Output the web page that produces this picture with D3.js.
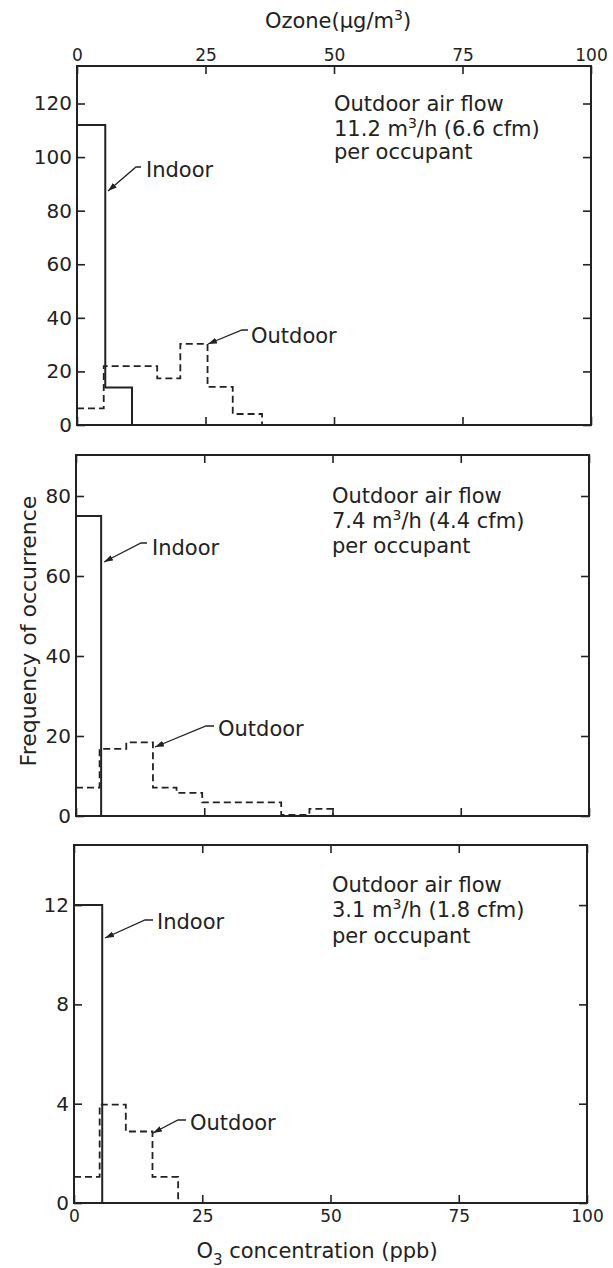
<!DOCTYPE html>
<html><head><meta charset="utf-8">
<script src="https://cdn.jsdelivr.net/npm/d3@7"></script>
<style>
body{margin:0;background:#fff}
text{font-family:"DejaVu Sans",sans-serif;fill:#222}
</style>
</head><body>
<svg id="c" width="613" height="1268"></svg>
<script>
// ---------- data ----------
const xTicks = [0, 25, 50, 75, 100];

const yTicksA = [0, 20, 40, 60, 80, 100, 120];
const yTicksB = [0, 20, 40, 60, 80];
const yTicksC = [0, 4, 8, 12];

const yMaxA = 134, yMaxB = 90.25, yMaxC = 14.42;

// panel A: 11.2 m3/h
const indoorEdgesA  = [0, 5.5, 10.7];
const indoorFreqA   = [112, 14];
const outdoorEdgesA = [0, 5.2, 15.6, 20.1, 25.4, 30.3, 36];
const outdoorFreqA  = [6.2, 22, 17.4, 30.3, 14.2, 4.1];

// panel B: 7.4 m3/h
const indoorEdgesB  = [0, 4.9];
const indoorFreqB   = [75];
const outdoorEdgesB = [0, 4.6, 9.8, 15, 19.6, 24.6, 40, 45.5, 50.1];
const outdoorFreqB  = [7.1, 16.8, 18.4, 7.1, 5.8, 3.4, 0.3, 1.8];

// panel C: 3.1 m3/h
const indoorEdgesC  = [0, 5.5];
const indoorFreqC   = [12];
const outdoorEdgesC = [0, 5.0, 10.1, 15.3, 20.3];
const outdoorFreqC  = [1.05, 3.96, 2.88, 1.05];

const flowRatesM3 = ["11.2", "7.4", "3.1"];
const flowRatesCfm = ["6.6", "4.4", "1.8"];

// ---------- drawing ----------
const svg = d3.select("#c");
const ink = "#222";

const defs = svg.append("defs");
defs.append("marker").attr("id","ah").attr("markerUnits","userSpaceOnUse")
  .attr("markerWidth",10).attr("markerHeight",6).attr("refX",9).attr("refY",3)
  .attr("orient","auto")
  .append("path").attr("d","M0,0 L9,3 L0,6 Z").attr("fill",ink);

const panels = [
  {l:77, r:591, t:66,  b:425,  yMax:yMaxA, yTicks:yTicksA,
   inE:indoorEdgesA, inF:indoorFreqA, outE:outdoorEdgesA, outF:outdoorFreqA,
   top:true, bottom:false,
   flow:{x:334, y:[111,136,159]},
   indoor:{tx:146, ty:177, a:[[141,167],[136,167],[108,191]]},
   outdoor:{tx:251, ty:343, a:[[248,330],[242,330],[208,344]]}},
  {l:76, r:589, t:455, b:816,  yMax:yMaxB, yTicks:yTicksB,
   inE:indoorEdgesB, inF:indoorFreqB, outE:outdoorEdgesB, outF:outdoorFreqB,
   top:false, bottom:false,
   flow:{x:332, y:[503,528,553]},
   indoor:{tx:152, ty:555, a:[[147,543],[141,543],[104,562]]},
   outdoor:{tx:218, ty:736, a:[[214,726],[206,726],[155,747]]}},
  {l:74, r:587, t:845, b:1203, yMax:yMaxC, yTicks:yTicksC,
   inE:indoorEdgesC, inF:indoorFreqC, outE:outdoorEdgesC, outF:outdoorFreqC,
   top:false, bottom:true,
   flow:{x:332, y:[892,917,943]},
   indoor:{tx:157, ty:929, a:[[153,920],[145,920],[105,938]]},
   outdoor:{tx:190, ty:1130, a:[[186,1120],[178,1120],[153,1133]]}}
];

const stepLine = d3.line().curve(d3.curveStepAfter);

panels.forEach((p, i) => {
  const x = d3.scaleLinear().domain([0,100]).range([p.l, p.r]);
  const y = d3.scaleLinear().domain([0,p.yMax]).range([p.b, p.t]);
  const g = svg.append("g");

  const styleAxis = (sel, labels, size) => {
    sel.select(".domain").remove();
    sel.selectAll(".tick line").attr("stroke", ink).attr("stroke-width",1.6);
    sel.selectAll(".tick text").attr("fill", ink).style("font-size", size + "px")
       .style("font-family","'DejaVu Sans',sans-serif");
    if (!labels) sel.selectAll(".tick text").remove();
  };

  g.append("g").attr("transform",`translate(${p.l},0)`)
    .call(d3.axisLeft(y).tickValues(p.yTicks).tickSize(-8).tickPadding(5))
    .call(s => styleAxis(s, true, 20));
  g.append("g").attr("transform",`translate(${p.r},0)`)
    .call(d3.axisRight(y).tickValues(p.yTicks).tickSize(-8))
    .call(s => styleAxis(s, false, 20));
  g.append("g").attr("transform",`translate(0,${p.t})`)
    .call(d3.axisTop(x).tickValues(xTicks).tickSize(-8).tickPadding(5))
    .call(s => styleAxis(s, p.top, 17));
  g.append("g").attr("transform",`translate(0,${p.b})`)
    .call(d3.axisBottom(x).tickValues(xTicks).tickSize(-8).tickPadding(7))
    .call(s => styleAxis(s, p.bottom, 17));

  // frame
  g.append("rect").attr("x",p.l).attr("y",p.t).attr("width",p.r-p.l).attr("height",p.b-p.t)
    .attr("fill","none").attr("stroke",ink).attr("stroke-width",2);

  // histograms
  const pts = (E, F) => {
    const a = F.map((v,k) => [x(E[k]), y(v)]);
    a.push([x(E[E.length-1]), y(0)]);
    return a;
  };
  g.append("path").attr("d", stepLine(pts(p.outE, p.outF)))
    .attr("fill","none").attr("stroke",ink).attr("stroke-width",1.8)
    .attr("stroke-dasharray","7,4");
  g.append("path").attr("d", stepLine(pts(p.inE, p.inF)))
    .attr("fill","none").attr("stroke",ink).attr("stroke-width",2);

  // flow annotation
  const ft = g.append("g").style("font-size","21px");
  ft.append("text").attr("x",p.flow.x).attr("y",p.flow.y[0]).text("Outdoor air flow");
  const t2 = ft.append("text").attr("x",p.flow.x).attr("y",p.flow.y[1]);
  t2.append("tspan").text(flowRatesM3[i] + " m");
  t2.append("tspan").attr("dy",-8).style("font-size","14px").text("3");
  t2.append("tspan").attr("dy",8).text("/h (" + flowRatesCfm[i] + " cfm)");
  ft.append("text").attr("x",p.flow.x).attr("y",p.flow.y[2]).text("per occupant");

  // labels with arrows
  [["Indoor", p.indoor], ["Outdoor", p.outdoor]].forEach(([lab, o]) => {
    g.append("text").attr("x",o.tx).attr("y",o.ty).style("font-size","21px").text(lab);
    g.append("path").attr("d", d3.line()(o.a)).attr("fill","none")
      .attr("stroke",ink).attr("stroke-width",1.3).attr("marker-end","url(#ah)");
  });
});

// axis titles
const tt = svg.append("text").attr("x",338).attr("y",28).attr("text-anchor","middle")
  .style("font-size","21px");
tt.append("tspan").text("Ozone(µg/m");
tt.append("tspan").attr("dy",-8).style("font-size","14px").text("3");
tt.append("tspan").attr("dy",8).text(")");

const bt = svg.append("text").attr("x",317).attr("y",1258).attr("text-anchor","middle")
  .style("font-size","21px");
bt.append("tspan").text("O");
bt.append("tspan").attr("dy",7).style("font-size","15px").text("3");
bt.append("tspan").attr("dy",-7).text(" concentration (ppb)");

svg.append("text").attr("transform","translate(36,631) rotate(-90)")
  .attr("text-anchor","middle").style("font-size","22px").text("Frequency of occurrence");
</script>
</body></html>
